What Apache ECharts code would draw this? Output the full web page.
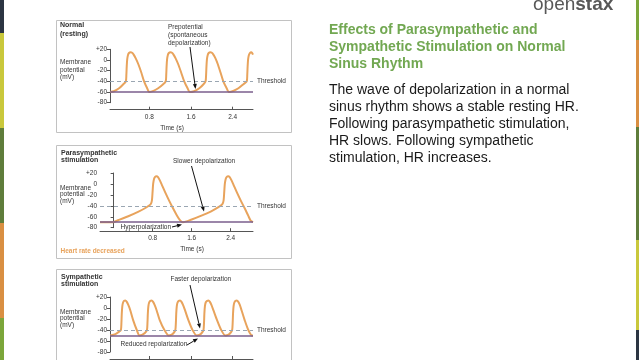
<!DOCTYPE html>
<html>
<head>
<meta charset="utf-8">
<script src="https://cdn.jsdelivr.net/npm/echarts@6/dist/echarts.min.js"></script>
<style>
html,body{margin:0;padding:0;background:#fff;}
#c{width:640px;height:360px;}
</style>
</head>
<body>
<div id="c"></div>
<script>
// ---- data ----
const timeTicks = [0.8, 1.6, 2.4];
const mvTicks = [-80, -60, -40, -20, 0, 20];
const threshold = -40;
const restNormal = -60;
const restPara = -70;
const restSymp = -50;

const normalCurve = [
  [0.046,-60],[0.12,-58.5],[0.22,-53],[0.30,-45.5],[0.35,-40],[0.36,-28],[0.367,-12],[0.376,1],[0.39,9],[0.41,13],[0.44,14.5],[0.47,13.5],[0.50,10],[0.54,3],[0.59,-8],[0.645,-23],[0.70,-40],[0.755,-52],[0.80,-60],
  [0.88,-58],[0.97,-53],[1.06,-46],[1.115,-40],[1.125,-28],[1.132,-12],[1.141,1],[1.155,9],[1.175,13],[1.205,14.5],[1.235,13.5],[1.265,10],[1.305,3],[1.355,-8],[1.41,-23],[1.47,-40],[1.53,-52],[1.58,-60],
  [1.66,-58.5],[1.76,-53],[1.84,-45.5],[1.88,-40],[1.89,-28],[1.897,-12],[1.906,1],[1.92,9],[1.94,13],[1.97,14.5],[2.0,13.5],[2.03,10],[2.07,3],[2.115,-8],[2.165,-23],[2.22,-40],[2.28,-52],[2.33,-60],
  [2.41,-58],[2.51,-53],[2.61,-45],[2.67,-40],[2.68,-28],[2.687,-12],[2.696,1],[2.71,9],[2.73,13],[2.755,14.5],[2.775,13],[2.79,10]
];

const paraCurve = [
  [-0.28,-70],[-0.02,-70],[0.1,-66],[0.3,-59],[0.5,-51],[0.65,-44],[0.76,-37],[0.785,-30],[0.798,-15],[0.81,0],[0.828,9],[0.85,13],[0.88,14],[0.91,12.5],[0.945,7],[0.99,-2],[1.06,-16],[1.14,-31],[1.22,-45],[1.30,-58],[1.36,-66],[1.42,-70],
  [1.6,-65],[1.8,-58],[2.0,-50],[2.14,-43],[2.23,-37],[2.255,-30],[2.268,-15],[2.28,0],[2.298,9],[2.32,13],[2.35,14],[2.38,12.5],[2.415,7],[2.46,-2],[2.53,-16],[2.61,-31],[2.69,-45],[2.76,-58],[2.81,-67],[2.858,-70]
];

const sympCurve = [
  [0.05,-50],[0.15,-47.5],[0.22,-43],[0.255,-40],[0.265,-27],[0.272,-10],[0.282,3],[0.297,10],[0.318,13],[0.34,13.5],[0.365,11.5],[0.395,6],[0.435,-4],[0.49,-22],[0.56,-40],[0.61,-50],
  [0.66,-49],[0.72,-45],[0.755,-40],[0.765,-27],[0.772,-10],[0.782,3],[0.797,10],[0.82,13],[0.845,13.5],[0.87,11.5],[0.90,6],[0.94,-4],[1.00,-22],[1.09,-40],[1.17,-50],
  [1.22,-49],[1.27,-45],[1.30,-40],[1.31,-27],[1.317,-10],[1.327,3],[1.342,10],[1.365,13],[1.39,13.5],[1.415,11.5],[1.445,6],[1.485,-4],[1.55,-22],[1.63,-40],[1.71,-50],
  [1.76,-49],[1.81,-45],[1.84,-40],[1.85,-27],[1.857,-10],[1.867,3],[1.882,10],[1.91,13],[1.935,13.5],[1.96,11.5],[1.99,6],[2.03,-4],[2.10,-22],[2.18,-40],[2.26,-50],
  [2.31,-49],[2.36,-45],[2.39,-40],[2.40,-27],[2.407,-10],[2.417,3],[2.432,10],[2.455,13],[2.48,13.5],[2.505,11.5],[2.535,6],[2.57,-4],[2.63,-22],[2.70,-40],[2.77,-50],[2.79,-50]
];

// ---- styling ----
const FONT = '"Liberation Sans", Arial, sans-serif';
const ORANGE = '#E8A35C';
const PURPLE = '#7A5E8C';
const DASH = '#9aa6b2';
const AXIS = '#555';

function xAxisCfg(gi, min, max, offset) {
  return {
    type: 'value', gridIndex: gi, min: min, max: max, offset: offset,
    axisLine: {show: true, onZero: false, lineStyle: {color: AXIS, width: 1}},
    axisTick: {show: true, inside: true, length: 3, customValues: timeTicks, lineStyle: {color: AXIS}},
    axisLabel: {customValues: timeTicks, fontSize: 6.5, color: '#333', margin: 4, fontFamily: FONT},
    splitLine: {show: false}
  };
}
function yAxisCfg(gi) {
  return {
    type: 'value', gridIndex: gi, min: mvTicks[0], max: mvTicks[mvTicks.length - 1], interval: 20,
    axisLine: {show: true, lineStyle: {color: AXIS, width: 1}},
    axisTick: {show: true, length: 3, lineStyle: {color: AXIS}},
    axisLabel: {fontSize: 6.5, color: '#333', margin: 3, fontFamily: FONT,
      formatter: v => (v > 0 ? '+' + v : String(v))},
    splitLine: {show: false}
  };
}
function curveSeries(gi, data, rest) {
  return {
    type: 'line', xAxisIndex: gi, yAxisIndex: gi, data: data, showSymbol: false, symbol: 'none',
    smooth: 0.25, lineStyle: {color: ORANGE, width: 2}, z: 3, silent: true,
    markLine: {
      silent: true, symbol: 'none', label: {show: false}, animation: false,
      data: [
        {yAxis: threshold, lineStyle: {color: DASH, type: [4, 3], width: 1}},
        {yAxis: rest, lineStyle: {color: PURPLE, type: 'solid', width: 1.6}}
      ]
    }
  };
}

function txt(x, y, text, o) {
  o = o || {};
  return {type: 'text', x: x, y: y, z: 10, silent: true,
    style: {text: text, fill: o.fill || '#333', font: (o.weight || 'normal') + ' ' + (o.size || 6.5) + 'px ' + FONT,
      align: o.align || 'left', verticalAlign: o.va || 'middle'}};
}
function arrow(x1, y1, x2, y2) {
  const a = Math.atan2(y2 - y1, x2 - x1), L = 5, W = 2;
  const bx = x2 - L * Math.cos(a), by = y2 - L * Math.sin(a);
  const px = -Math.sin(a) * W, py = Math.cos(a) * W;
  return [
    {type: 'line', z: 10, silent: true, shape: {x1: x1, y1: y1, x2: bx, y2: by}, style: {stroke: '#111', lineWidth: 1}},
    {type: 'polygon', z: 10, silent: true, shape: {points: [[x2, y2], [bx + px, by + py], [bx - px, by - py]]}, style: {fill: '#111'}}
  ];
}
function strip(x, w, segs) {
  return segs.map(s => ({type: 'rect', silent: true, shape: {x: x, y: s[0], width: w, height: s[1] - s[0]}, style: {fill: s[2]}}));
}
function box(x, y, w, h) {
  return {type: 'rect', silent: true, z: 0, shape: {x: x, y: y, width: w, height: h}, style: {fill: 'none', stroke: '#c2c2c2', lineWidth: 1}};
}

const NAVY = '#2c3542', YEL = '#c9c83c', OLIVE = '#5f7d3b', ORG = '#d98f42', GRN = '#7ba63a';

const graphics = [].concat(
  strip(0, 4, [[0, 33, NAVY], [33, 128, YEL], [128, 223, OLIVE], [223, 318, ORG], [318, 360, GRN]]),
  strip(636, 3, [[0, 40, GRN], [40, 127, ORG], [127, 240, OLIVE], [240, 330, YEL], [330, 360, NAVY]]),
  [box(56.5, 20.5, 235, 112), box(56.5, 145.5, 235, 113), box(56.5, 269.5, 235, 100)],
  // panel 1
  [txt(60, 25, 'Normal', {weight: 'bold', size: 7}), txt(60, 34, '(resting)', {weight: 'bold', size: 7}),
   txt(60, 62.5, 'Membrane', {}), txt(60, 70, 'potential', {}), txt(60, 77, '(mV)', {}),
   txt(168, 27, 'Prepotential', {}), txt(168, 35, '(spontaneous', {}), txt(168, 43, 'depolarization)', {}),
   txt(257, 81, 'Threshold', {}), txt(172, 128, 'Time (s)', {align: 'center'})],
  arrow(190, 47, 195.5, 89),
  // panel 2
  [txt(61, 153, 'Parasympathetic', {weight: 'bold', size: 7}), txt(61, 160.5, 'stimulation', {weight: 'bold', size: 7}),
   txt(60, 188, 'Membrane', {}), txt(60, 194.5, 'potential', {}), txt(60, 201, '(mV)', {}),
   txt(173, 161, 'Slower depolarization', {}),
   txt(257, 206, 'Threshold', {}),
   txt(120.5, 227, 'Hyperpolarization', {}),
   txt(192, 249.5, 'Time (s)', {align: 'center'}),
   txt(60.5, 251, 'Heart rate decreased', {fill: ORANGE, weight: 'bold', size: 6.5})],
  arrow(191.5, 166, 204, 211.5),
  arrow(172, 227, 182, 224.5),
  // panel 3
  [txt(61, 277, 'Sympathetic', {weight: 'bold', size: 7}), txt(61, 284.5, 'stimulation', {weight: 'bold', size: 7}),
   txt(60, 312, 'Membrane', {}), txt(60, 318.5, 'potential', {}), txt(60, 325, '(mV)', {}),
   txt(170.5, 279.5, 'Faster depolarization', {}),
   txt(257, 330, 'Threshold', {}),
   txt(120.5, 344.5, 'Reduced repolarization', {})],
  arrow(190, 285, 200, 328.5),
  arrow(187, 345, 198, 338.5),
  // slide text
  [{type: 'text', x: 533, y: 5, z: 10, silent: true, style: {
      text: '{a|open}{b|stax}{c|™}', verticalAlign: 'middle', align: 'left',
      rich: {a: {font: 'normal 19px ' + FONT, fill: '#585858'}, b: {font: 'bold 19px ' + FONT, fill: '#585858'},
             c: {font: 'normal 6px ' + FONT, fill: '#585858', verticalAlign: 'top'}}}},
   txt(329, 30, 'Effects of Parasympathetic and', {fill: '#72A852', weight: 'bold', size: 14}),
   txt(329, 47, 'Sympathetic Stimulation on Normal', {fill: '#72A852', weight: 'bold', size: 14}),
   txt(329, 64, 'Sinus Rhythm', {fill: '#72A852', weight: 'bold', size: 14}),
   txt(329, 90, 'The wave of depolarization in a normal', {fill: '#1a1a1a', size: 14}),
   txt(329, 107.5, 'sinus rhythm shows a stable resting HR.', {fill: '#1a1a1a', size: 14}),
   txt(329, 124.5, 'Following parasympathetic stimulation,', {fill: '#1a1a1a', size: 14}),
   txt(329, 141.5, 'HR slows. Following sympathetic', {fill: '#1a1a1a', size: 14}),
   txt(329, 158.5, 'stimulation, HR increases.', {fill: '#1a1a1a', size: 14})]
);

const chart = echarts.init(document.getElementById('c'), null, {renderer: 'canvas'});
chart.setOption({
  animation: false,
  backgroundColor: '#ffffff',
  grid: [
    {left: 110, top: 49.3, width: 143, height: 53.4, outerBoundsMode: 'none', containLabel: false},
    {left: 100, top: 173, width: 153, height: 54.7, outerBoundsMode: 'none', containLabel: false},
    {left: 110, top: 297, width: 143, height: 55, outerBoundsMode: 'none', containLabel: false}
  ],
  xAxis: [
    xAxisCfg(0, 0.046, 2.79, 7),
    xAxisCfg(1, -0.28, 2.858, 3.5),
    xAxisCfg(2, 0.046, 2.79, 7)
  ],
  yAxis: [yAxisCfg(0), yAxisCfg(1), yAxisCfg(2)],
  series: [
    curveSeries(0, normalCurve, restNormal),
    curveSeries(1, paraCurve, restPara),
    curveSeries(2, sympCurve, restSymp)
  ],
  graphic: graphics
});
</script>
</body>
</html>
